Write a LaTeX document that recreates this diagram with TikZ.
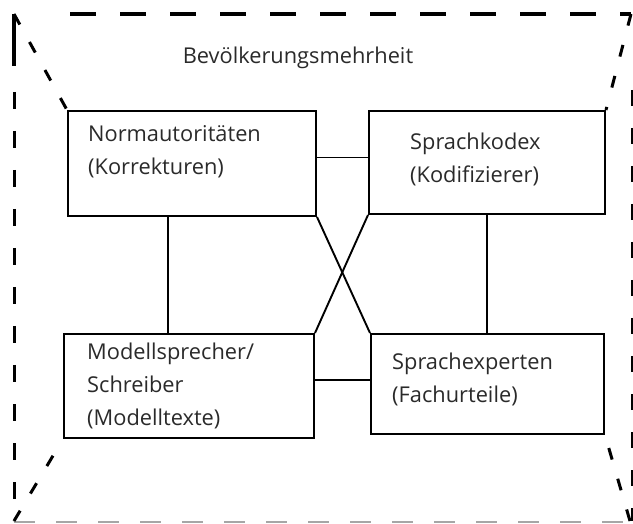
\documentclass[tikz,border=0pt]{standalone}
\usepackage{fontspec}
\setmainfont{Open Sans}
\definecolor{txtgray}{HTML}{2A2A2A}
\begin{document}
\begin{tikzpicture}[x=1pt,y=-1pt,
  box/.style={draw,line width=2pt,anchor=north west,inner sep=0pt},
  lbl/.style={anchor=north west,align=left,text=txtgray,font=\fontsize{21.8}{33}\selectfont,inner sep=0pt},
  link/.style={line width=1.9pt},
  frame/.style={line width=3.2pt,dash pattern=on 26pt off 24pt},
  diag/.style={line width=3pt,dash pattern=on 12pt off 20pt}]
\useasboundingbox (0,0) rectangle (633,524);
% outer frame
\coordinate (tl) at (14,14);
\coordinate (tr) at (631,14);
\coordinate (bl) at (14,521);
\coordinate (br) at (630,521);
\draw[frame] (70,14) -- (tr);
\draw[line width=3.2pt] (tl) -- (14,66);
\draw[line width=3pt,dash pattern=on 17pt off 22pt] (14,92) -- (bl);
\draw[line width=2.4pt,dash pattern=on 16pt off 22pt] (632,90) -- (632,521);
\draw[gray!70,line width=1.3pt,dash pattern=on 21pt off 21pt] (14,522) -- (630,522);
\node[font=\fontsize{21.8}{24}\selectfont,text=txtgray] (pop) at (298,58) {Bevölkerungsmehrheit};
% boxes
\node[box,minimum width=248pt,minimum height=105pt] (norm) at (67,110) {};
\node[box,minimum width=236pt,minimum height=103pt] (kodex) at (368,110) {};
\node[box,minimum width=250pt,minimum height=104pt] (model) at (63,333) {};
\node[box,minimum width=233pt,minimum height=100pt] (experts) at (370,333) {};
\node[lbl] (normtxt) at (88,125) {Normautoritäten\\(Korrekturen)};
\node[lbl] (kodextxt) at (410,133) {Sprachkodex\\(Kodifizierer)};
\node[lbl] (modeltxt) at (87,343) {Modellsprecher/\\Schreiber\\(Modelltexte)};
\node[lbl] (expertstxt) at (392,353) {Sprachexperten\\(Fachurteile)};
% corners to boxes
\draw[diag] (tl) -- (norm.north west);
\draw[diag] (tr) -- (kodex.north east);
\draw[diag] (bl) -- (model.south west);
\draw[diag] (br) -- (experts.south east);
% links
\draw[link] ([yshift=6pt]norm.east) -- ([yshift=6pt]norm.east -| kodex.west);
\draw[link] ([xshift=-24pt]norm.south) -- ([xshift=-24pt]norm.south |- model.north);
\draw[link] (kodex.south) -- (kodex.south |- experts.north);
\draw[link] ([yshift=6pt]model.east) -- ([yshift=6pt]model.east -| experts.west);
\draw[link] (norm.south east) -- (experts.north west);
\draw[link] (kodex.south west) -- (model.north east);
\end{tikzpicture}
\end{document}
